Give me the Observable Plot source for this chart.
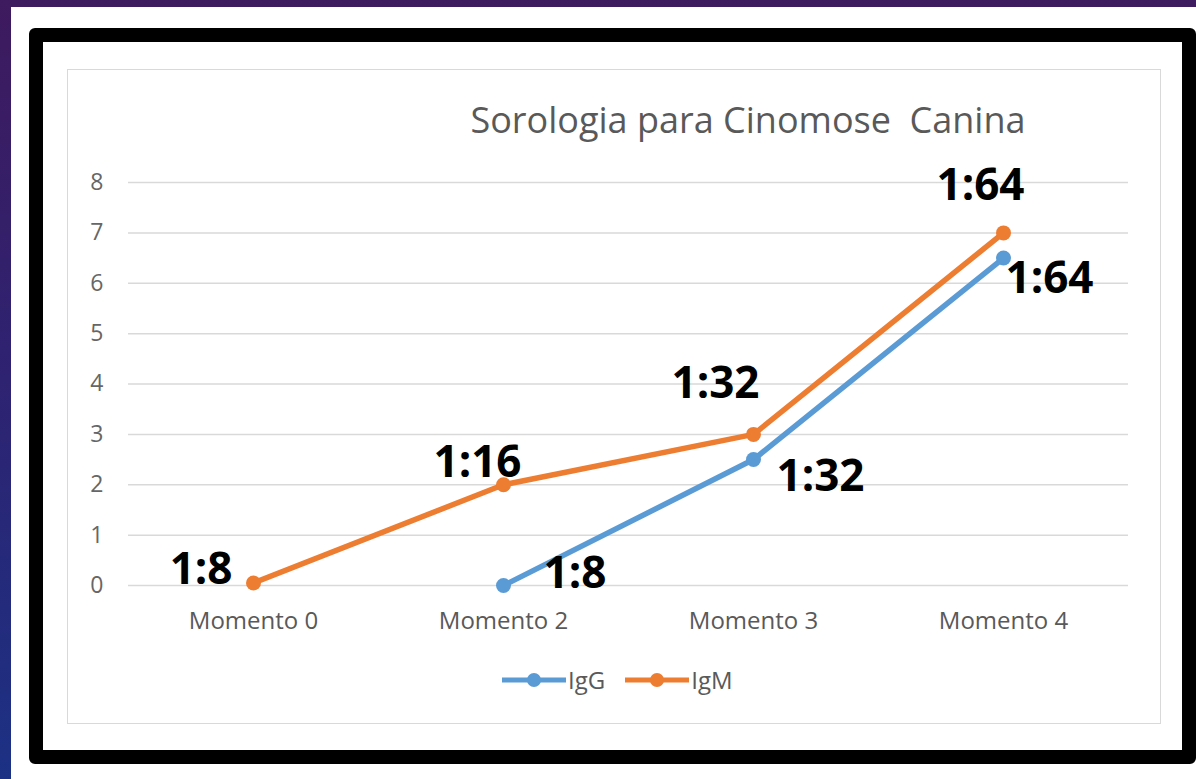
<!DOCTYPE html>
<html>
<head>
<meta charset="utf-8">
<script src="https://cdn.jsdelivr.net/npm/d3@7"></script>
<script src="https://cdn.jsdelivr.net/npm/@observablehq/plot@0.6"></script>
<style>
  html, body { margin: 0; padding: 0; }
  body {
    width: 1196px; height: 779px; overflow: hidden; position: relative;
    background: linear-gradient(to bottom, #3e1a5e 0%, #2f2270 45%, #1c3184 100%);
    font-family: "Open Sans", sans-serif;
  }
  #paper { position: absolute; left: 11px; top: 7px; right: 0; bottom: 0; background: #fff; }
  #frame { position: absolute; left: 29px; top: 28px; width: 1139px; height: 708px;
           border: 14px solid #000; border-radius: 6px; background: #fff; }
  #inner { position: absolute; left: 67px; top: 69px; width: 1092px; height: 653px;
           border: 1.5px solid #d9d9d9; }
  #title { position: absolute; left: 448px; width: 600px; top: 100px; line-height: 40px;
           text-align: center; font-size: 36px; color: #595959; white-space: pre; }
  #chart { position: absolute; left: 0; top: 0; }
  #legend { position: absolute; top: 664px; left: 502px; display: flex; align-items: center;
            font-size: 24px; color: #595959; line-height: 32px; }
  #legend .item { display: flex; align-items: center; margin-right: 20px; }
  #legend svg { display: block; margin-right: 2px; }
</style>
</head>
<body>
<div id="paper"></div>
<div id="frame"></div>
<div id="inner"></div>
<div id="title"></div>
<div id="chart"></div>
<div id="legend"></div>
<script>
// ---- data ----
const chartTitle = "Sorologia para Cinomose  Canina";
const categories = ["Momento 0", "Momento 2", "Momento 3", "Momento 4"];
const seriesNames = ["IgG", "IgM"];
const igG = [null, 0, 2.5, 6.5];
const igM = [0.05, 2, 3, 7];
const igGLabels = [null, "1:8", "1:32", "1:64"];
const igMLabels = ["1:8", "1:16", "1:32", "1:64"];
const yTicks = [0, 1, 2, 3, 4, 5, 6, 7, 8];

// ---- styles ----
const colors = {IgG: "#5b9bd5", IgM: "#ed7d31"};
const labelPlacement = {
  IgM: [
    {textAnchor: "end", dx: -21, dy: -13},
    {textAnchor: "middle", dx: -26, dy: -22},
    {textAnchor: "middle", dx: -38, dy: -50},
    {textAnchor: "middle", dx: -23, dy: -47}
  ],
  IgG: [
    null,
    {textAnchor: "start", dx: 40, dy: -12},
    {textAnchor: "start", dx: 23, dy: 17},
    {textAnchor: "start", dx: 2, dy: 21}
  ]
};

const seriesValues = {IgG: igG, IgM: igM};
const seriesLabels = {IgG: igGLabels, IgM: igMLabels};
const rows = [];
for (const s of seriesNames) {
  categories.forEach((c, i) => {
    const v = seriesValues[s][i];
    if (v != null) rows.push({series: s, momento: c, value: v, label: seriesLabels[s][i], i});
  });
}

document.getElementById("title").textContent = chartTitle;

const labelMarks = [];
for (const s of seriesNames) {
  labelPlacement[s].forEach((p, i) => {
    if (!p) return;
    labelMarks.push(Plot.text(rows.filter(d => d.series === s && d.i === i), {
      x: "momento", y: "value", text: "label",
      textAnchor: p.textAnchor, dx: p.dx, dy: p.dy,
      fontSize: 44, fontWeight: "bold", fill: "#000", lineAnchor: "middle",
      fontFamily: "Open Sans"
    }));
  });
}

const chart = Plot.plot({
  width: 1196, height: 779,
  marginLeft: 128, marginRight: 68, marginTop: 182, marginBottom: 194,
  x: {type: "point", domain: categories, padding: 0.5},
  y: {domain: [0, 8]},
  color: {domain: seriesNames, range: seriesNames.map(s => colors[s])},
  style: {background: "transparent", fontFamily: "Open Sans", overflow: "visible"},
  marks: [
    Plot.gridY(yTicks, {stroke: "#d9d9d9", strokeOpacity: 1, strokeWidth: 1.5}),
    Plot.axisY(yTicks, {tickSize: 0, tickPadding: 25, fontSize: 23, fill: "#666", label: null, tickFormat: d => String(d)}),
    Plot.axisX({tickSize: 0, tickPadding: 26, fontSize: 24, fill: "#595959", label: null}),
    Plot.line(rows, {x: "momento", y: "value", z: "series", stroke: "series", strokeWidth: 5.5}),
    Plot.dot(rows, {x: "momento", y: "value", fill: "series", r: 7.5, stroke: "none"}),
    ...labelMarks
  ]
});
document.getElementById("chart").appendChild(chart);

// legend
const legend = document.getElementById("legend");
for (const s of seriesNames) {
  const item = document.createElement("div");
  item.className = "item";
  item.innerHTML = `<svg width="64" height="16"><line x1="0" y1="8" x2="64" y2="8" stroke="${colors[s]}" stroke-width="5"/><circle cx="32" cy="8" r="7" fill="${colors[s]}"/></svg><span>${s}</span>`;
  legend.appendChild(item);
}
</script>
</body>
</html>
